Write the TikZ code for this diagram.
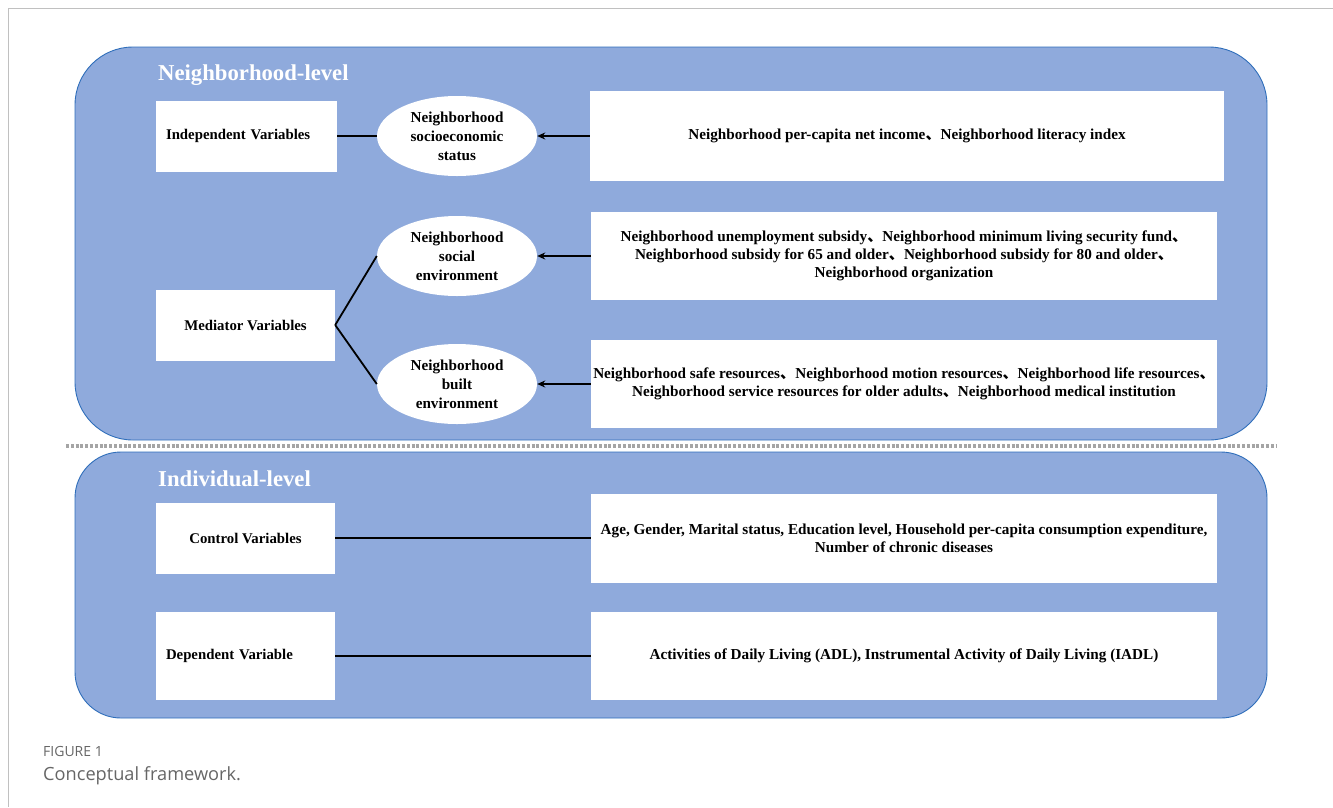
\documentclass[tikz,border=0pt]{standalone}
\usepackage{fontspec}
\setmainfont{Liberation Serif}
\newfontfamily\cjk{Noto Sans CJK SC}
\newfontfamily\capfont{Open Sans}
\usetikzlibrary{shapes.geometric,arrows.meta}
\definecolor{panelblue}{HTML}{8FAADC}
\definecolor{paneledge}{HTML}{2F6EBA}
\definecolor{framegray}{HTML}{C0C0C0}
\definecolor{dotgray}{HTML}{A5A5A5}
\definecolor{capgray}{HTML}{666666}
\newcommand{\dunhao}{{\cjk 、}}
\begin{document}
\begin{tikzpicture}[x=1pt,y=-1pt,
    panel/.style={draw=paneledge,line width=0.9pt,fill=panelblue},
    heading/.style={anchor=base west,text=white,font=\fontsize{22.7}{26}\selectfont\bfseries,inner sep=0pt},
    varbox/.style={rectangle,fill=white,minimum width=179pt,minimum height=71pt,inner sep=0pt,align=center,font=\fontsize{14.8}{18}\selectfont\bfseries},
    leftbox/.style={varbox,text width=161pt,inner xsep=10pt,align=left},
    infobox/.style={rectangle,fill=white,minimum width=626pt,minimum height=88pt,inner sep=0pt,align=center,font=\fontsize{15.2}{18}\selectfont\bfseries},
    blob/.style={ellipse,fill=white,minimum width=160pt,minimum height=80pt,inner sep=0pt,align=center,font=\fontsize{15.2}{19}\selectfont\bfseries},
    conn/.style={draw=black,line width=1.8pt},
    arr/.style={conn,-{Stealth[length=8pt,width=7pt]}}]

     \useasboundingbox (0,0) rectangle (1333,807);

     % page frame
     \draw[framegray,line width=1pt] (1333,8) -- (8,8) -- (8,807);

     % panels
     \draw[panel,rounded corners=58pt] (75,47) rectangle (1267,440);
     \draw[panel,rounded corners=46pt] (75,452) rectangle (1267,718);
     \draw[dotgray,line width=3.6pt,dash pattern=on 3pt off 1.8pt] (66,446) -- (1276,446);

     \node[heading] (NL) at (158,80) {Neighborhood-level};
     \node[heading] (IL) at (158,486) {Individual-level};

     % neighborhood level
     \node[leftbox,minimum width=181pt] (IV) at (246.5,136) {Independent Variables};
     \node[blob] (SES) at (457,136) {Neighborhood\\socioeconomic\\status};
     \node[infobox,minimum width=634pt,minimum height=90pt] (R1) at (907,136) {Neighborhood per-capita net income\dunhao Neighborhood literacy index};

     \node[varbox] (MV) at (245.5,325) {Mediator Variables};
     \node[blob] (SOC) at (457,256) {Neighborhood\\social\\environment};
     \node[blob] (BLT) at (457,384) {Neighborhood\\built\\environment};
     \node[infobox] (R2) at (904,256) {Neighborhood unemployment subsidy\dunhao Neighborhood minimum living security fund\dunhao\\Neighborhood subsidy for 65 and older\dunhao Neighborhood subsidy for 80 and older\dunhao\\Neighborhood organization};
     \node[infobox] (R3) at (904,384) {Neighborhood safe resources\dunhao Neighborhood motion resources\dunhao Neighborhood life resources\dunhao\\Neighborhood service resources for older adults\dunhao Neighborhood medical institution};

     \draw[conn] (IV.east) -- (SES.west);
     \draw[arr] (R1.west) -- (SES.east);
     \draw[conn] (MV.east) -- (SOC.west);
     \draw[conn] (MV.east) -- (BLT.west);
     \draw[arr] (R2.west) -- (SOC.east);
     \draw[arr] (R3.west) -- (BLT.east);

     % individual level
     \node[varbox] (CV) at (245.5,538) {Control Variables};
     \node[infobox,minimum height=89pt] (R4) at (904,538) {Age, Gender, Marital status, Education level, Household per-capita consumption expenditure,\\Number of chronic diseases};
     \node[leftbox,minimum height=88pt,text width=159pt] (DV) at (245.5,656) {Dependent Variable};
     \node[infobox] (R5) at (904,656) {Activities of Daily Living (ADL), Instrumental Activity of Daily Living (IADL)};

     \draw[conn] (CV.east) -- (R4.west);
     \draw[conn] (DV.east) -- (R5.west);

     % caption
     \node[anchor=base west,inner sep=0pt,text=capgray,font=\capfont\fontsize{14}{16}\selectfont] (FG) at (43,756) {FIGURE 1};
     \node[anchor=base west,inner sep=0pt,text=capgray,font=\capfont\fontsize{18.2}{21}\selectfont] (CF) at (43,780) {Conceptual framework.};

\end{tikzpicture}
\end{document}
